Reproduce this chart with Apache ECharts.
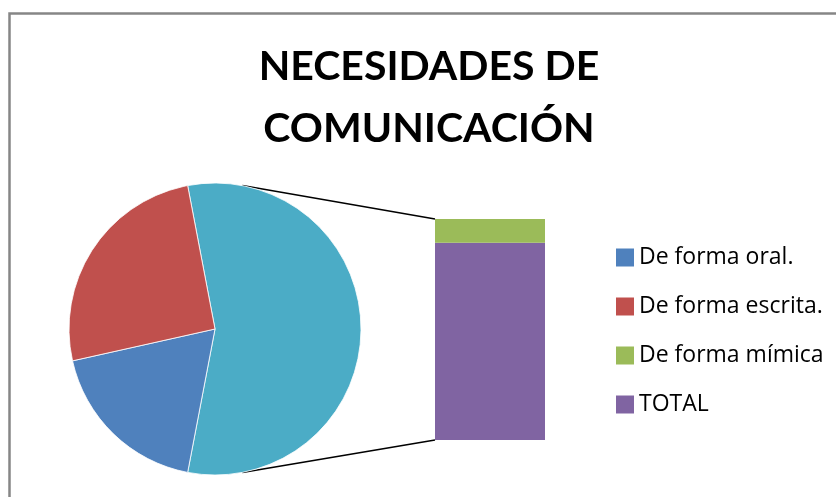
<!DOCTYPE html>
<html>
<head>
<meta charset="utf-8">
<script src="https://cdn.jsdelivr.net/npm/echarts@6/dist/echarts.min.js"></script>
<style>
  html, body { margin: 0; padding: 0; background: #fff; }
  #main { width: 836px; height: 497px; }
</style>
</head>
<body>
<div id="main"></div>
<script>
// datos del gráfico (circular con barra)
var pieNames = ['De forma oral.', 'De forma escrita.'];
var pieValues = [37, 51];
var barNames = ['De forma mímica', 'TOTAL'];
var barValues = [12, 100];
var otherName = 'Otro';

var colors = {
    'De forma oral.': '#4F81BD',
    'De forma escrita.': '#C0504D',
    'De forma mímica': '#9BBB59',
    'TOTAL': '#8064A2',
    'Otro': '#4BACC6'
};

var pieCenter = [215, 329];
var pieRadius = 146;

var otherValue = barValues[0] + barValues[1];
var sumAll = pieValues[0] + pieValues[1] + otherValue;
var otherDeg = otherValue / sumAll * 360;
var startAngle = otherDeg / 2;

var pieData = [{ name: otherName, value: otherValue, itemStyle: { color: colors[otherName] } }];
for (var i = 0; i < pieNames.length; i++) {
    pieData.push({ name: pieNames[i], value: pieValues[i], itemStyle: { color: colors[pieNames[i]] } });
}

var myChart = echarts.init(document.getElementById('main'));

var option = {
    animation: false,
    title: {
        text: 'NECESIDADES DE\nCOMUNICACIÓN',
        left: 429,
        textAlign: 'center',
        top: 36,
        padding: 0,
        textStyle: {
            fontFamily: 'Lato',
            fontWeight: 'bold',
            fontSize: 41,
            lineHeight: 62,
            color: '#000'
        }
    },
    legend: {
        orient: 'vertical',
        left: 616,
        top: 246,
        padding: 0,
        itemWidth: 18,
        itemHeight: 18,
        itemGap: 26,
        icon: 'rect',
        itemStyle: { borderWidth: 0 },
        data: [pieNames[0], pieNames[1], barNames[0], barNames[1]],
        textStyle: {
            fontFamily: "'Open Sans'",
            fontSize: 23,
            lineHeight: 22,
            color: '#000'
        }
    },
    grid: {
        left: 435,
        top: 219,
        width: 110,
        height: 221
    },
    xAxis: {
        type: 'category',
        data: [''],
        show: false
    },
    yAxis: {
        type: 'value',
        min: 0,
        max: otherValue,
        show: false
    },
    series: [{
        type: 'pie',
        center: pieCenter,
        radius: pieRadius,
        startAngle: startAngle,
        clockwise: true,
        label: { show: false },
        labelLine: { show: false },
        itemStyle: { borderColor: '#fff', borderWidth: 0.8 },
        data: pieData
    }, {
        name: barNames[1],
        type: 'bar',
        stack: 'otro',
        barWidth: '100%',
        itemStyle: { color: colors[barNames[1]] },
        data: [barValues[1]]
    }, {
        name: barNames[0],
        type: 'bar',
        stack: 'otro',
        barWidth: '100%',
        itemStyle: { color: colors[barNames[0]] },
        data: [barValues[0]]
    }]
};

myChart.setOption(option);

// líneas de unión entre el círculo y la barra
var topLeft = myChart.convertToPixel({ gridIndex: 0 }, [0, otherValue]);
var bottomLeft = myChart.convertToPixel({ gridIndex: 0 }, [0, 0]);
var barLeft = 435;
var a = (180 - startAngle) * Math.PI / 180;
var p1 = [pieCenter[0] + pieRadius * Math.cos(a), pieCenter[1] - pieRadius * Math.sin(a)];
var p2 = [pieCenter[0] + pieRadius * Math.cos(a), pieCenter[1] + pieRadius * Math.sin(a)];

myChart.setOption({
    graphic: [{
        type: 'rect',
        shape: { x: 9.5, y: 13.5, width: 900, height: 600 },
        style: { fill: 'none', stroke: '#868686', lineWidth: 2.5 },
        silent: true
    }, {
        type: 'line',
        shape: { x1: p1[0], y1: p1[1], x2: barLeft, y2: topLeft[1] },
        style: { stroke: '#000', lineWidth: 1.5 },
        silent: true
    }, {
        type: 'line',
        shape: { x1: p2[0], y1: p2[1], x2: barLeft, y2: bottomLeft[1] },
        style: { stroke: '#000', lineWidth: 1.5 },
        silent: true
    }]
});
</script>
</body>
</html>
